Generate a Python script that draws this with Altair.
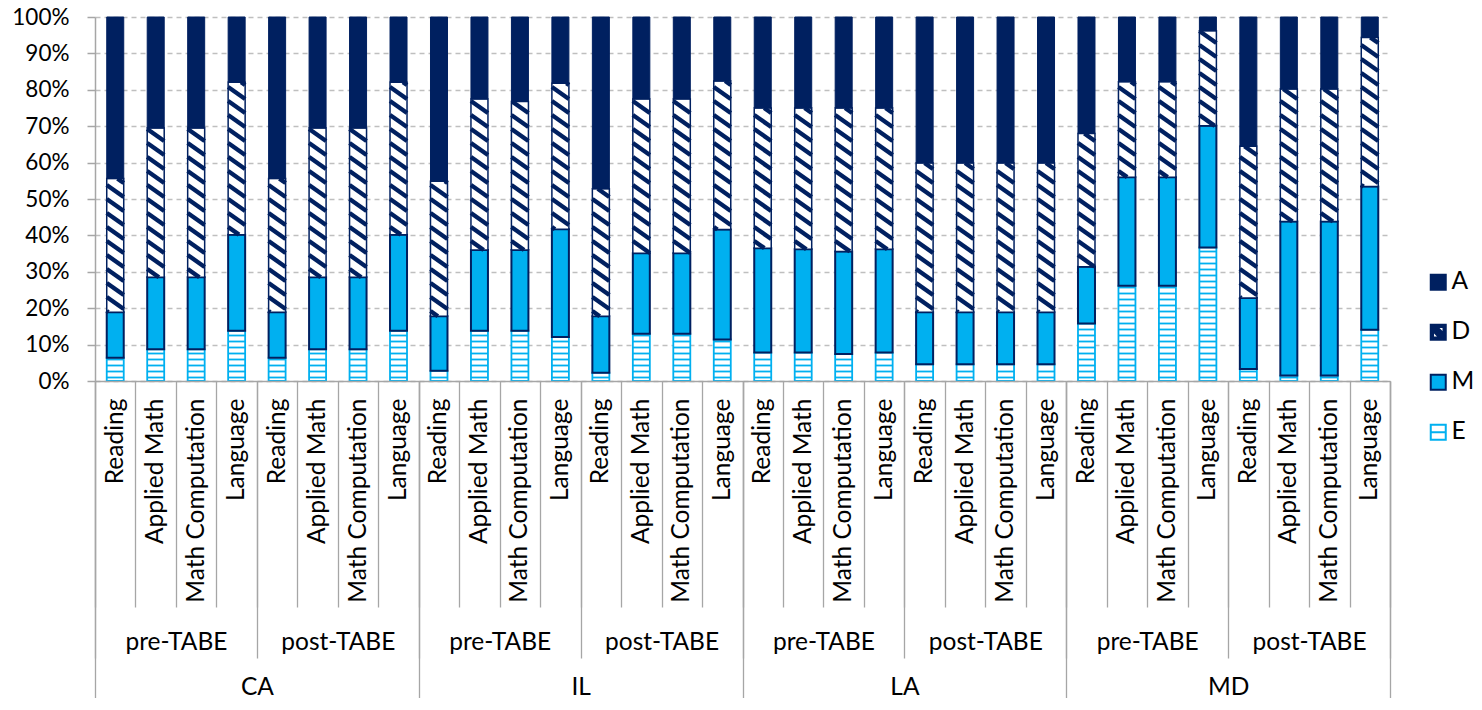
import math
import altair as alt
import pandas as pd

# ---------------- data ----------------
states = ["CA", "IL", "LA", "MD"]
tests = ["pre-TABE", "post-TABE"]
subjects = ["Reading", "Applied Math", "Math Computation", "Language"]
categories = ["A", "D", "M", "E"]

# shares (%) per bar, bar order: state > test > subject
E_vals = [6.4, 8.7, 8.7, 13.8, 6.4, 8.7, 8.7, 13.8,
          2.8, 13.8, 13.8, 12.1, 2.3, 13.0, 13.0, 11.4,
          7.8, 7.8, 7.4, 7.8, 4.6, 4.6, 4.6, 4.6,
          15.8, 26.2, 26.2, 36.7, 3.3, 1.5, 1.5, 14.1]
M_vals = [12.5, 19.8, 19.8, 26.4, 12.5, 19.8, 19.8, 26.4,
          15.0, 22.2, 22.2, 29.6, 15.5, 22.1, 22.1, 30.2,
          28.7, 28.4, 28.2, 28.4, 14.3, 14.3, 14.3, 14.3,
          15.6, 29.8, 29.8, 33.4, 19.5, 42.3, 42.3, 39.3]
D_vals = [36.7, 41.0, 41.0, 41.9, 36.7, 41.0, 41.0, 41.9,
          37.1, 41.5, 40.8, 40.1, 35.0, 42.4, 42.4, 40.8,
          38.5, 38.8, 39.4, 38.8, 41.0, 41.0, 41.0, 41.0,
          36.6, 26.2, 26.2, 26.1, 41.7, 36.4, 36.4, 41.0]
A_vals = [44.4, 30.5, 30.5, 17.9, 44.4, 30.5, 30.5, 17.9,
          45.1, 22.5, 23.2, 18.2, 47.2, 22.5, 22.5, 17.6,
          25.0, 25.0, 25.0, 25.0, 40.1, 40.1, 40.1, 40.1,
          32.0, 17.8, 17.8, 3.8, 35.5, 19.8, 19.8, 5.6]

# ---------------- style ----------------
NAVY = "#002060"
LBLUE = "#00B0F0"
GRID = "#BFBFBF"
AXISC = "#A6A6A6"
FONT = "Lato"
FS = 24.5

PLOT_W, PLOT_H = 1295, 364
N = len(E_vals)
PXX = PLOT_W / N          # px per bar slot
HALF_PX = 8.5             # half bar width in px
HW = HALF_PX / PXX

# ---------------- derived tables ----------------
keys, grps, sts = [], [], []
for s in states:
    for t in tests:
        for j in subjects:
            keys.append(f"{s}|{t}|{j}")
            grps.append(f"{s}|{t}")
            sts.append(s)
grp_order = list(dict.fromkeys(grps))
bars = pd.DataFrame({"pos": range(N), "key": keys, "grp": grps, "state": sts})

seg_rows = []
tops = {}
for i in range(N):
    lo = 0.0
    for cat, vals in (("E", E_vals), ("M", M_vals), ("D", D_vals), ("A", A_vals)):
        hi = min(lo + vals[i] / 100.0, 1.0)
        seg_rows.append(dict(pos=i, cat=cat, x0=i - HW, x1=i + HW, y0=lo, y1=hi))
        tops[(i, cat)] = (lo, hi)
        lo = hi
seg = pd.DataFrame(seg_rows)

# horizontal stripes inside E segments
PE, OFFE = 6.0, 3.5
e_rows = []
for i in range(N):
    lo, hi = tops[(i, "E")]
    y = OFFE
    while y < hi * PLOT_H - 1.5:
        e_rows.append(dict(x0=i - HW, x1=i + HW, y0=y / PLOT_H))
        y += PE
e_lines = pd.DataFrame(e_rows)

# diagonal stripes inside D segments (clipped to the segment)
PD, DROP = 14.0, 12.0
W = 2 * HALF_PX
slope = DROP / W
d_rows = []
for i in range(N):
    lo, hi = tops[(i, "D")]
    yb, yt = lo * PLOT_H, hi * PLOT_H
    k0 = math.ceil(yb / PD)
    k1 = math.floor((yt + DROP) / PD)
    for k in range(k0, k1 + 1):
        c = k * PD
        u0 = max(0.0, (c - yt) / slope)
        u1 = min(W, (c - yb) / slope)
        if u1 - u0 > 0.3:
            d_rows.append(dict(x0=i - HW + u0 / PXX, x1=i - HW + u1 / PXX,
                               y0=(c - slope * u0) / PLOT_H, y1=(c - slope * u1) / PLOT_H))
d_lines = pd.DataFrame(d_rows)

# ---------------- scales / axes ----------------
xs = alt.Scale(domain=[-0.5, N - 0.5], nice=False, zero=False)
ys = alt.Scale(domain=[0, 1], nice=False, zero=True)
yaxis = alt.Axis(values=[i / 10 for i in range(11)], format=".0%", title=None,
                 labelFont=FONT, labelFontSize=22.5, labelColor="#000000", labelPadding=18,
                 tickSize=8, tickColor=AXISC, tickWidth=1.5,
                 domainColor=AXISC, domainWidth=1.5,
                 grid=True, gridColor=GRID, gridDash=[5, 4], gridWidth=1.5)


def enc(ch, y2=True):
    e = dict(x=alt.X("x0:Q", scale=xs, axis=None), x2="x1:Q",
             y=alt.Y("y0:Q", scale=ys, axis=yaxis))
    if y2:
        e["y2"] = "y1:Q"
    return ch.encode(**e)


def seg_layer(cat, **mk):
    return enc(alt.Chart(seg).transform_filter(alt.datum.cat == cat).mark_rect(**mk))


e_rect = seg_layer("E", fill="white", stroke=LBLUE, strokeWidth=1.8)
e_hatch = enc(alt.Chart(e_lines).mark_rule(stroke=LBLUE, strokeWidth=1.8), y2=False)
m_rect = seg_layer("M", fill=LBLUE, stroke=NAVY, strokeWidth=2)
d_rect = seg_layer("D", fill="white")
d_hatch = enc(alt.Chart(d_lines).mark_rule(stroke=NAVY, strokeWidth=4.4, strokeCap="butt"))
d_out = seg_layer("D", fill="white", fillOpacity=0, stroke=NAVY, strokeWidth=1.5)
a_rect = seg_layer("A", fill=NAVY, stroke=NAVY, strokeWidth=1)

common_ax = dict(title=None, orient="bottom", labelFont=FONT, labelFontSize=FS,
                 labelColor="#000000", tickBand="extent", tickColor=AXISC, tickWidth=1.3,
                 labelLimit=500, labelOverlap=False, labelBound=False)

band = alt.Scale(type="band", paddingInner=0, paddingOuter=0)

ax_sub = alt.Chart(bars).mark_rect(opacity=0).encode(
    x=alt.X("key:N", sort=keys, scale=band,
            axis=alt.Axis(labelExpr="split(datum.value, '|')[2]", labelAngle=270,
                          tickSize=226, labelPadding=-209,
                          domain=True, domainColor=AXISC, domainWidth=1.5, **common_ax)))

grp_df = pd.DataFrame({"grp": grp_order})
ax_grp = alt.Chart(grp_df).mark_rect(opacity=0).encode(
    x=alt.X("grp:N", sort=grp_order, scale=band,
            axis=alt.Axis(labelExpr="split(datum.value, '|')[1]", labelAngle=0,
                          labelBaseline="middle", tickSize=277, labelPadding=-16,
                          domain=False, **common_ax)))

st_df = pd.DataFrame({"state": states})
ax_st = alt.Chart(st_df).mark_rect(opacity=0).encode(
    x=alt.X("state:N", sort=states, scale=band,
            axis=alt.Axis(labelAngle=0, labelBaseline="middle", tickSize=317,
                          labelPadding=-11, domain=False, **common_ax)))

# legend
D_PATH = ("M-1,-1H1V1H-1Z"
          "M-0.15,-0.7L0.7,0.15L0.7,-0.7Z"
          "M-0.7,-0.15L-0.7,0.7L0.15,0.7Z")
E_PATH = "M-1,-1H1V1H-1ZM-1,0H1"
leg_cfg = alt.Legend(title=None, orient="none", legendX=1331, legendY=253,
                     labelFont=FONT, labelFontSize=FS, labelColor="#000000",
                     symbolSize=225, symbolStrokeWidth=2, rowPadding=25,
                     labelOffset=1, padding=0)
leg_df = pd.DataFrame({"cat": categories})
leg = alt.Chart(leg_df).transform_filter("false").mark_point(filled=True, opacity=1).encode(
    fill=alt.Fill("cat:N", scale=alt.Scale(domain=categories, range=[NAVY, NAVY, LBLUE, "white"]),
                  legend=leg_cfg),
    stroke=alt.Stroke("cat:N", scale=alt.Scale(domain=categories, range=[NAVY, NAVY, NAVY, LBLUE]),
                      legend=leg_cfg),
    shape=alt.Shape("cat:N", scale=alt.Scale(domain=categories,
                                             range=["square", D_PATH, "square", E_PATH]),
                    legend=leg_cfg),
)

chart = alt.layer(
    e_rect, e_hatch, m_rect, d_rect, d_hatch, d_out, a_rect, ax_sub, ax_grp, ax_st, leg
).resolve_scale(x="independent").properties(
    width=PLOT_W, height=PLOT_H,
    padding={"left": 87, "top": 9, "right": 84, "bottom": 317},
    autosize=alt.AutoSizeParams(type="none"),
    background="white",
).configure_view(stroke=None)

chart.save("out.html", embed_options={"renderer": "svg", "actions": False})
